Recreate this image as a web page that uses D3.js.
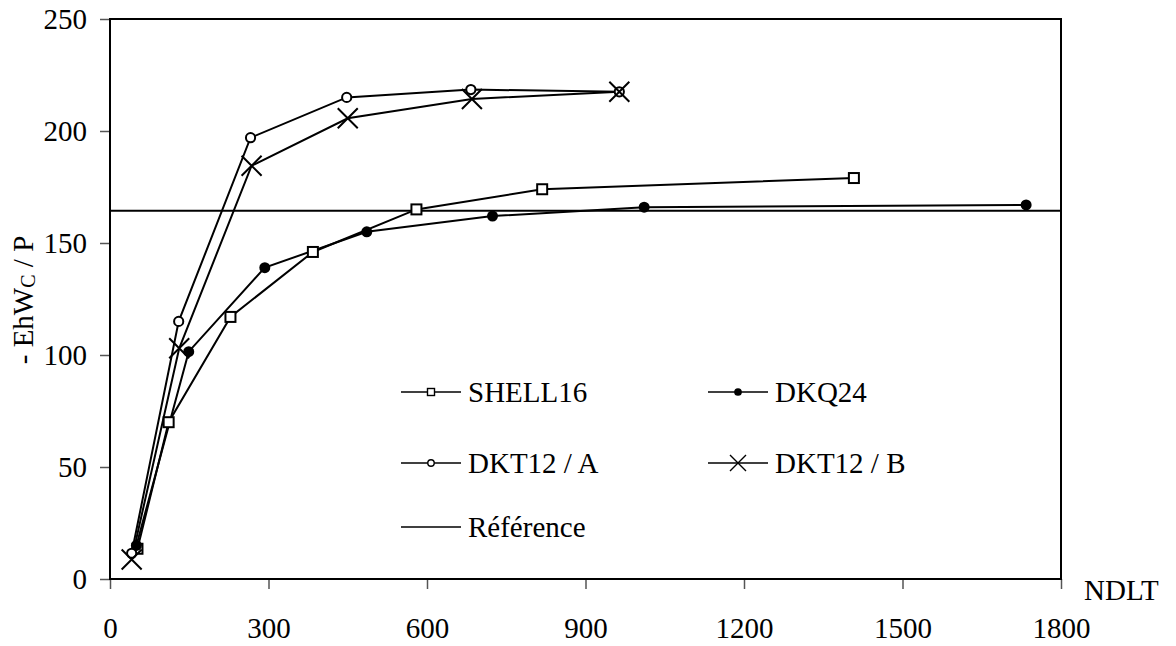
<!DOCTYPE html>
<html>
<head>
<meta charset="utf-8">
<script src="https://cdn.jsdelivr.net/npm/d3@7/dist/d3.min.js"></script>
<style>
  html, body { margin: 0; padding: 0; background: #fff; }
  svg { display: block; }
  text { font-family: "Liberation Serif", "Times New Roman", serif; fill: #000; }
</style>
</head>
<body>
<svg id="chart" width="1176" height="646"></svg>
<script>
// Series data (NDLT vs -EhWc/P)
const shellX = [52, 111, 228, 384, 580, 818, 1408];
const shellY = [13.5, 70, 117, 146, 165, 174, 179];

const dkqX = [50, 149, 293, 486, 724, 1011, 1734];
const dkqY = [15, 101.5, 139, 155, 162, 166, 167];

const dktAX = [41, 130, 266, 448, 683, 964];
const dktAY = [11.5, 115, 197, 215, 218.5, 217.5];

const dktBX = [41, 131, 268, 450, 685, 964];
const dktBY = [8.7, 103, 184.5, 205.7, 214.3, 217.5];

const referenceValue = 164.4;

const xTicks = [0, 300, 600, 900, 1200, 1500, 1800];
const yTicks = [0, 50, 100, 150, 200, 250];

const seriesNames = ["SHELL16", "DKQ24", "DKT12 / A", "DKT12 / B", "Référence"];

const FONT = '"Liberation Serif", "Times New Roman", serif';
const svg = d3.select("#chart");
const plotLeft = 110, plotRight = 1061, plotTop = 19, plotBottom = 579;

const x = d3.scaleLinear().domain([0, 1800]).range([plotLeft, plotRight]);
const y = d3.scaleLinear().domain([0, 250]).range([plotBottom, plotTop]);

// Axes with outward ticks
const xAxis = svg.append("g")
  .attr("transform", `translate(0,${plotBottom})`)
  .call(d3.axisBottom(x).tickValues(xTicks).tickSize(10).tickPadding(28).tickFormat(d3.format("d")));
const yAxis = svg.append("g")
  .attr("transform", `translate(${plotLeft},0)`)
  .call(d3.axisLeft(y).tickValues(yTicks).tickSize(10).tickPadding(13).tickFormat(d3.format("d")));

[xAxis, yAxis].forEach(g => {
  g.attr("font-family", FONT);
  g.select(".domain").remove();
  g.selectAll(".tick line").attr("stroke", "#555").attr("stroke-width", 1.5);
  g.selectAll(".tick text")
    .style("font-family", FONT)
    .style("font-size", "29px").attr("fill", "#000");
});

// Plot frame
svg.append("rect")
  .attr("x", plotLeft).attr("y", plotTop)
  .attr("width", plotRight - plotLeft).attr("height", plotBottom - plotTop)
  .attr("fill", "none").attr("stroke", "#000").attr("stroke-width", 2);

// Reference line
svg.append("line")
  .attr("x1", plotLeft).attr("x2", plotRight)
  .attr("y1", y(referenceValue)).attr("y2", y(referenceValue))
  .attr("stroke", "#000").attr("stroke-width", 2);

const line = d3.line().x(d => x(d[0])).y(d => y(d[1]));
const zip = (a, b) => a.map((v, i) => [v, b[i]]);

const series = [
  { name: seriesNames[0], pts: zip(shellX, shellY), marker: "square" },
  { name: seriesNames[1], pts: zip(dkqX, dkqY), marker: "dot" },
  { name: seriesNames[2], pts: zip(dktAX, dktAY), marker: "circle" },
  { name: seriesNames[3], pts: zip(dktBX, dktBY), marker: "cross" }
];

series.forEach(s => {
  svg.append("path").datum(s.pts)
    .attr("d", line).attr("fill", "none")
    .attr("stroke", "#000").attr("stroke-width", 2);
});

function drawMarker(g, type, cx, cy, scale, sw) {
  if (type === "square") {
    const h = 5 * scale;
    g.append("rect").attr("x", cx - h).attr("y", cy - h)
      .attr("width", 2 * h).attr("height", 2 * h)
      .attr("fill", "#fff").attr("stroke", "#000").attr("stroke-width", sw);
  } else if (type === "dot") {
    g.append("circle").attr("cx", cx).attr("cy", cy).attr("r", 5.5 * scale)
      .attr("fill", "#000");
  } else if (type === "circle") {
    g.append("circle").attr("cx", cx).attr("cy", cy).attr("r", 4.6 * scale)
      .attr("fill", "#fff").attr("stroke", "#000").attr("stroke-width", sw);
  } else if (type === "cross") {
    const a = 10 * scale;
    g.append("path")
      .attr("d", `M${cx - a},${cy - a}L${cx + a},${cy + a}M${cx - a},${cy + a}L${cx + a},${cy - a}`)
      .attr("stroke", "#000").attr("stroke-width", sw).attr("fill", "none");
  }
}

series.forEach(s => {
  const g = svg.append("g");
  s.pts.forEach(p => drawMarker(g, s.marker, x(p[0]), y(p[1]), 1, 2));
});

// Legend
const legendItems = [
  { name: seriesNames[0], marker: "square", lx: 401, ly: 392 },
  { name: seriesNames[1], marker: "dot", lx: 708, ly: 392 },
  { name: seriesNames[2], marker: "circle", lx: 401, ly: 463 },
  { name: seriesNames[3], marker: "cross", lx: 708, ly: 463 },
  { name: seriesNames[4], marker: null, lx: 401, ly: 527 }
];
const lg = svg.append("g");
legendItems.forEach(it => {
  lg.append("line").attr("x1", it.lx).attr("x2", it.lx + 60)
    .attr("y1", it.ly).attr("y2", it.ly)
    .attr("stroke", "#000").attr("stroke-width", 1.6);
  if (it.marker) drawMarker(lg, it.marker, it.lx + 30, it.ly, it.marker === "cross" ? 0.8 : 0.7, 1.4);
  lg.append("text").attr("x", it.lx + 67).attr("y", it.ly + 10)
    .style("font-family", FONT).style("font-size", "29px").text(it.name);
});

// Axis titles
svg.append("text").attr("x", 1084).attr("y", 600)
  .style("font-family", FONT).style("font-size", "29px").text("NDLT");

const yt = svg.append("text")
  .attr("transform", "translate(33,300) rotate(-90)")
  .attr("text-anchor", "middle")
  .style("font-family", FONT)
  .style("font-size", "29px");
yt.append("tspan").text("- EhW");
yt.append("tspan").style("font-size", "20px").attr("dy", 2).text("C");
yt.append("tspan").attr("dy", -2).text(" / P");
</script>
</body>
</html>
